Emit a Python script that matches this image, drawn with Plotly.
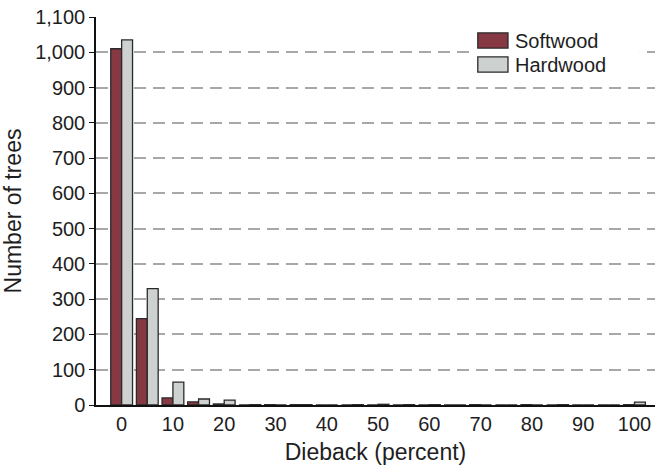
import plotly.graph_objects as go

dieback = [0, 5, 10, 15, 20, 25, 30, 35, 40, 45, 50, 55, 60, 65, 70, 75, 80, 85, 90, 95, 100]
softwood = [1010, 245, 20, 9, 3, 0, 1, 1, 0, 0, 0, 0, 0, 0, 1, 0, 1, 0, 0, 0, 1]
hardwood = [1035, 330, 65, 17, 14, 1, 0, 1, 0, 1, 2, 1, 1, 0, 0, 0, 0, 1, 0, 0, 8]
x_ticks = [0, 10, 20, 30, 40, 50, 60, 70, 80, 90, 100]
y_ticks = list(range(0, 1101, 100))
series_names = ["Softwood", "Hardwood"]
series_colors = ["#873943", "#cdd1cf"]

font = "Liberation Sans, Arial, Helvetica, sans-serif"
txt = "#1e1e1e"
outline = "#2a2a2a"

fig = go.Figure()
fig.add_trace(go.Bar(x=dieback, y=softwood, name=series_names[0],
                     marker=dict(color=series_colors[0], line=dict(color=outline, width=1.3))))
fig.add_trace(go.Bar(x=dieback, y=hardwood, name=series_names[1],
                     marker=dict(color=series_colors[1], line=dict(color=outline, width=1.3))))

# custom legend (larger swatches, white box over gridlines)
shapes = [dict(type="rect", xref="paper", yref="paper", x0=0.669, x1=0.973, y0=0.843, y1=0.972,
               fillcolor="white", line=dict(width=0), layer="above")]
annotations = []
sw_y = [(0.920, 0.959), (0.858, 0.897)]
txt_y = [0.938, 0.876]
for i in range(2):
    shapes.append(dict(type="rect", xref="paper", yref="paper", x0=0.683, x1=0.737,
                       y0=sw_y[i][0], y1=sw_y[i][1], fillcolor=series_colors[i],
                       line=dict(color=outline, width=1.3), layer="above"))
    annotations.append(dict(xref="paper", yref="paper", x=0.746, y=txt_y[i], xanchor="left",
                            yanchor="middle", text=series_names[i], showarrow=False,
                            font=dict(family=font, size=20, color=txt)))

fig.update_layout(
    width=662, height=470,
    margin=dict(l=96, r=7, t=17, b=65),
    paper_bgcolor="white", plot_bgcolor="white",
    barmode="group", bargap=0.15, bargroupgap=0,
    font=dict(family=font, size=20, color=txt),
    showlegend=False,
    shapes=shapes, annotations=annotations,
)
fig.update_xaxes(range=[-5, 104], tickvals=x_ticks, showgrid=False, zeroline=False,
                 showline=True, linecolor="#111", linewidth=1.5, ticks="", automargin=False,
                 tickfont=dict(family=font, size=20, color=txt),
                 title=dict(text="Dieback (percent)", font=dict(family=font, size=23, color=txt), standoff=10))
fig.update_yaxes(range=[0, 1100], tickvals=y_ticks, tickformat=",d", automargin=False,
                 showgrid=True, gridcolor="#a8a8a8", gridwidth=1.5, griddash="12px,7px",
                 zeroline=False, showline=True, linecolor="#111", linewidth=1.5,
                 ticks="outside", ticklen=5, tickcolor="#111", tickwidth=1.3,
                 tickfont=dict(family=font, size=20, color=txt),
                 title=dict(text="Number of trees", font=dict(family=font, size=23, color=txt), standoff=12))

fig.write_html("out.html", config={"displayModeBar": False},
               post_script="document.body.style.margin='0';document.body.style.overflow='hidden';")
